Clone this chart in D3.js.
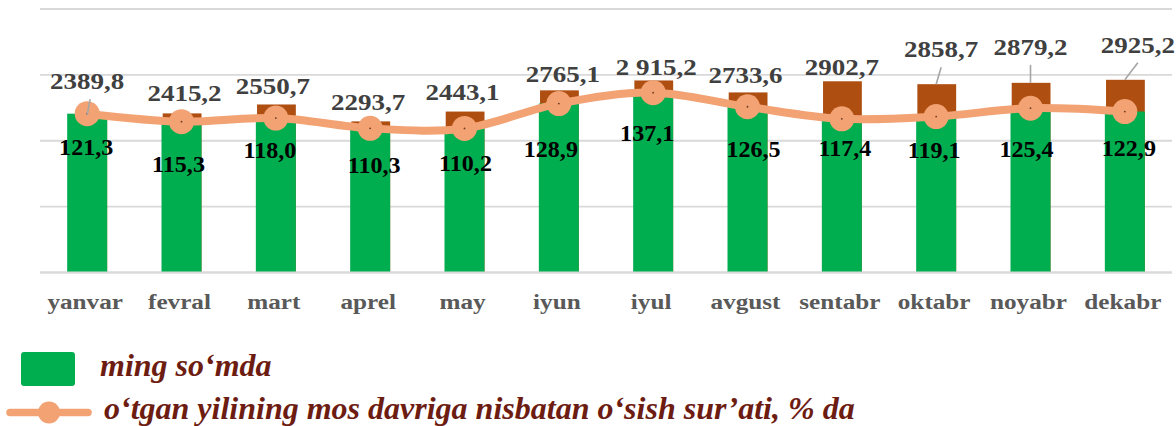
<!DOCTYPE html>
<html>
<head>
<meta charset="utf-8">
<script src="https://cdn.jsdelivr.net/npm/d3@7"></script>
<style>
  html, body { margin: 0; padding: 0; background: #fff; }
  svg { display: block; }
</style>
</head>
<body>
<svg id="chart" width="1176" height="426"></svg>
<script>
// ---- data ----
const months = ["yanvar", "fevral", "mart", "aprel", "may", "iyun", "iyul", "avgust", "sentabr", "oktabr", "noyabr", "dekabr"];
const values = [2389.8, 2415.2, 2550.7, 2293.7, 2443.1, 2765.1, 2915.2, 2733.6, 2902.7, 2858.7, 2879.2, 2925.2];
const valueLabels = ["2389,8", "2415,2", "2550,7", "2293,7", "2443,1", "2765,1", "2 915,2", "2733,6", "2902,7", "2858,7", "2879,2", "2925,2"];
const growth = [121.3, 115.3, 118.0, 110.3, 110.2, 128.9, 137.1, 126.5, 117.4, 119.1, 125.4, 122.9];
const growthLabels = ["121,3", "115,3", "118,0", "110,3", "110,2", "128,9", "137,1", "126,5", "117,4", "119,1", "125,4", "122,9"];
const primaryTicks = [0, 1000, 2000, 3000, 4000];
const legendBar = "ming so‘mda";
const legendLine = "o‘tgan yilining mos davriga nisbatan o‘sish sur’ati, % da";

// ---- label layout (manual label placement, px offsets) ----
const valueLabelDx = [0, 3, -3, -2, -2, 4, 3, -2, 0, 5, 0, 13];
const valueLabelDy = [-26, -12, -10, -11, -11.5, -8, -5.5, -9, -6.5, -27, -28, -27];
const valueLeader = [true, false, false, false, false, false, false, false, false, true, true, true];
const growthLabelDx = [-1, -3, -6, 4, 1, -8, -6, 6, 3, -2, -4, 4];
const growthLabelDy = [41, 50, 40, 45, 43, 53, 48, 50, 37, 41, 49, 44];

(function () {
const FONT = "'Liberation Serif', 'Times New Roman', Tinos, 'DejaVu Serif', serif";
const svg = d3.select("#chart").attr("font-family", FONT);
const plotLeft = 40, plotRight = 1172, plotTop = 9, plotBase = 272.5;

const x = d3.scaleBand().domain(months).range([plotLeft, plotRight]).paddingInner(0.576).paddingOuter(0.288);
const y = d3.scaleLinear().domain([0, 4000]).range([plotBase, plotTop]);
const y2 = d3.scaleLinear().domain([0, 200]).range([275, plotTop]);
const cx = m => x(m) + x.bandwidth() / 2;

// gridlines
svg.append("g").selectAll("line").data(primaryTicks).join("line")
  .attr("x1", plotLeft).attr("x2", plotRight)
  .attr("y1", d => y(d)).attr("y2", d => y(d))
  .attr("stroke", "#d9d9d9").attr("stroke-width", 1.8);

// brown bars (primary value)
svg.append("g").selectAll("rect").data(months).join("rect")
  .attr("x", m => x(m) + 1.2)
  .attr("width", x.bandwidth() - 1.2)
  .attr("y", (m, i) => y(values[i]))
  .attr("height", (m, i) => y(0) - y(values[i]))
  .attr("fill", "#AE4E11");

// green bars
svg.append("g").selectAll("rect").data(months).join("rect")
  .attr("x", m => x(m))
  .attr("width", x.bandwidth())
  .attr("y", (m, i) => y2(growth[i]))
  .attr("height", (m, i) => y(0) - y2(growth[i]))
  .attr("fill", "#00AE4F");

// baseline redraw
svg.append("line").attr("x1", plotLeft).attr("x2", plotRight).attr("y1", y(0)).attr("y2", y(0))
  .attr("stroke", "#d9d9d9").attr("stroke-width", 1.8);

// line
const line = d3.line().x((d, i) => cx(months[i])).y(d => y2(d)).curve(d3.curveCardinal.tension(0));
svg.append("path").datum(growth).attr("d", line)
  .attr("fill", "none").attr("stroke", "#F2A273").attr("stroke-width", 8).attr("stroke-linecap", "round");
svg.append("g").selectAll("circle").data(growth).join("circle")
  .attr("cx", (d, i) => cx(months[i])).attr("cy", d => y2(d)).attr("r", 12.5)
  .attr("fill", "#F2A273");
svg.append("g").selectAll("circle").data(growth).join("circle")
  .attr("cx", (d, i) => cx(months[i])).attr("cy", d => y2(d)).attr("r", 0.9)
  .attr("fill", "#6b3a20");

// value leader lines
svg.append("g").selectAll("line").data(months.filter((m, i) => valueLeader[i])).join("line")
  .attr("x1", m => { const i = months.indexOf(m); return cx(m) + valueLabelDx[i] + (i === 0 ? 3 : 0); })
  .attr("y1", m => { const i = months.indexOf(m); return y(values[i]) + valueLabelDy[i] + 10; })
  .attr("x2", m => cx(m))
  .attr("y2", m => y(values[months.indexOf(m)]))
  .attr("stroke", "#a6a6a6").attr("stroke-width", 1.6);

// value labels
svg.append("g").selectAll("text").data(months).join("text")
  .attr("transform", (m, i) => `translate(${cx(m) + valueLabelDx[i]},${y(values[i]) + valueLabelDy[i]}) scale(1.2,1)`)
  .attr("text-anchor", "middle")
  .attr("font-size", 22.5).attr("font-weight", "bold").attr("fill", "#404040")
  .text((m, i) => valueLabels[i]);

// growth labels
svg.append("g").selectAll("text").data(months).join("text")
  .attr("transform", (m, i) => `translate(${cx(m) + growthLabelDx[i]},${y2(growth[i]) + growthLabelDy[i]}) scale(1.07,1)`)
  .attr("text-anchor", "middle")
  .attr("font-size", 22.5).attr("font-weight", "bold").attr("fill", "#000")
  .text((m, i) => growthLabels[i]);

// x axis labels
svg.append("g").selectAll("text").data(months).join("text")
  .attr("transform", m => `translate(${cx(m) - 2},309) scale(1.2,1)`)
  .attr("text-anchor", "middle")
  .attr("font-size", 21).attr("font-weight", "bold").attr("fill", "#595959")
  .text(m => m);

// legend
const lg = svg.append("g");
lg.append("rect").attr("x", 21).attr("y", 352).attr("width", 54).attr("height", 34).attr("rx", 3)
  .attr("fill", "#00AE4F");
lg.append("text").attr("x", 100).attr("y", 376)
  .attr("font-size", 32).attr("font-weight", "bold").attr("font-style", "italic").attr("fill", "#6d1c12")
  .text(legendBar);
lg.append("line").attr("x1", 10).attr("x2", 88).attr("y1", 412.5).attr("y2", 412.5)
  .attr("stroke", "#F2A273").attr("stroke-width", 7.5).attr("stroke-linecap", "round");
lg.append("circle").attr("cx", 49).attr("cy", 412.5).attr("r", 11).attr("fill", "#F2A273");
lg.append("text").attr("x", 104).attr("y", 419)
  .attr("font-size", 32).attr("font-weight", "bold").attr("font-style", "italic").attr("fill", "#6d1c12")
  .text(legendLine);
})();
</script>
</body>
</html>
